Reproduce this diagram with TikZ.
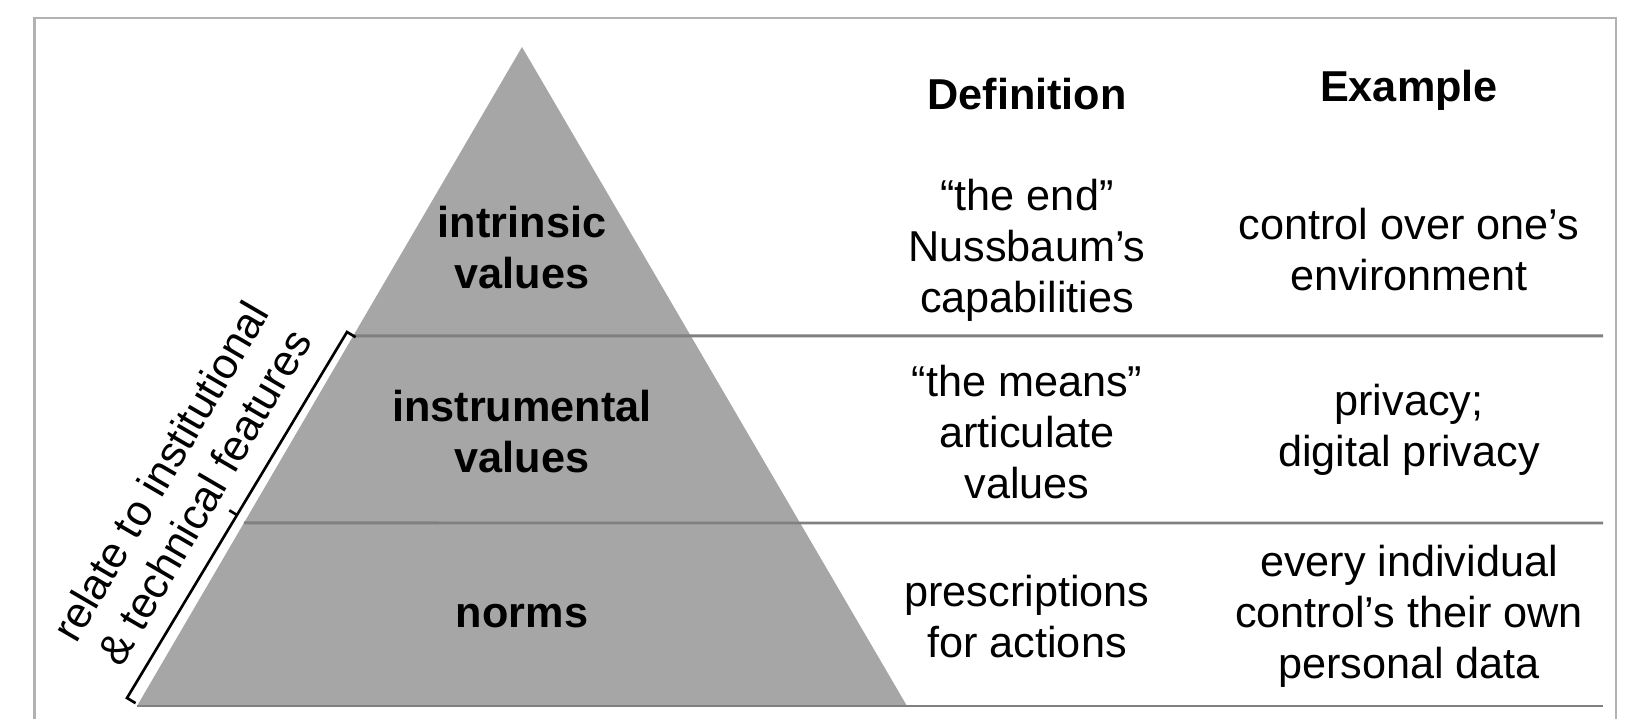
\documentclass[tikz,border=0pt]{standalone}
\usepackage{fontspec}
\setmainfont{Liberation Sans}
\usetikzlibrary{calc}

\definecolor{pyrfill}{RGB}{166,166,166}
\definecolor{rulegray}{RGB}{128,128,128}
\definecolor{framegray}{RGB}{178,178,178}

\begin{document}
\begin{tikzpicture}[
  every node/.style={font=\fontsize{12.3}{14.5}\selectfont, align=center},
  level/.style={font=\fontsize{12.3}{14.5}\selectfont\bfseries},
  rule/.style={draw=rulegray, line width=0.85pt},
  bracket/.style={draw=black, line width=0.75pt},
]
  \useasboundingbox (0,0) rectangle (16.31,7.19);
  \draw[framegray, line width=0.6pt] (0.345,-0.1) -- (0.345,7.01) -- (16.16,7.01) -- (16.16,-0.1);

  % pyramid
  \coordinate (top) at (5.22,6.72);
  \coordinate (bl) at (1.37,0.13);
  \coordinate (br) at (9.07,0.13);
  \fill[pyrfill] (top) -- (bl) -- (br) -- cycle;

  % rules between the rows
  \coordinate (r1) at ($(top)!0.4385!(bl)$);
  \coordinate (r2) at ($(top)!0.7223!(bl)$);
  \coordinate (e1) at (16.03,3.83);
  \coordinate (e2) at (16.03,1.96);
  \coordinate (e3) at (16.03,0.13);
  \draw[rule] (r1) -- (e1);
  \draw[rule] (r2) -- (e2);
  \draw[rule] (bl) -- (e3);

  % levels
  \node[level] (intr) at (5.22,4.71) {intrinsic\\values};
  \node[level] (instr) at (5.22,2.87) {instrumental\\values};
  \node[level] (norms) at (5.22,1.03) {norms};

  % headers
  \node[level] (defhead) at (10.27,6.25) {Definition};
  \node[level] (exhead) at (14.09,6.29) {Example};

  % definition column
  \node (def1) at (10.27,4.69) {“the end”\\Nussbaum’s\\capabilities};
  \node (def2) at (10.27,2.87) {“the means”\\articulate\\values};
  \node (def3) at (10.27,1.02) {prescriptions\\for actions};

  % example column
  \node (ex1) at (14.09,4.69) {control over one’s\\environment};
  \node (ex2) at (14.09,2.89) {privacy;\\digital privacy};
  \node (ex3) at (14.09,1.03) {every individual\\control’s their own\\personal data};

  % side bracket
  \coordinate (btop) at (3.47,3.87);
  \coordinate (bbot) at (1.27,0.21);
  \coordinate (bmid) at ($(btop)!0.5!(bbot)$);
  \draw[bracket] ($(btop)!0.1cm!90:(bbot)$) -- (btop) -- (bbot) -- ($(bbot)!0.1cm!-90:(btop)$);
  \draw[bracket] (bmid) -- ($(bmid)!0.09cm!90:(btop)$);
  \node[rotate=59.7] (side) at (1.82,2.35) {relate to institutional\\\& technical features};
\end{tikzpicture}
\end{document}
